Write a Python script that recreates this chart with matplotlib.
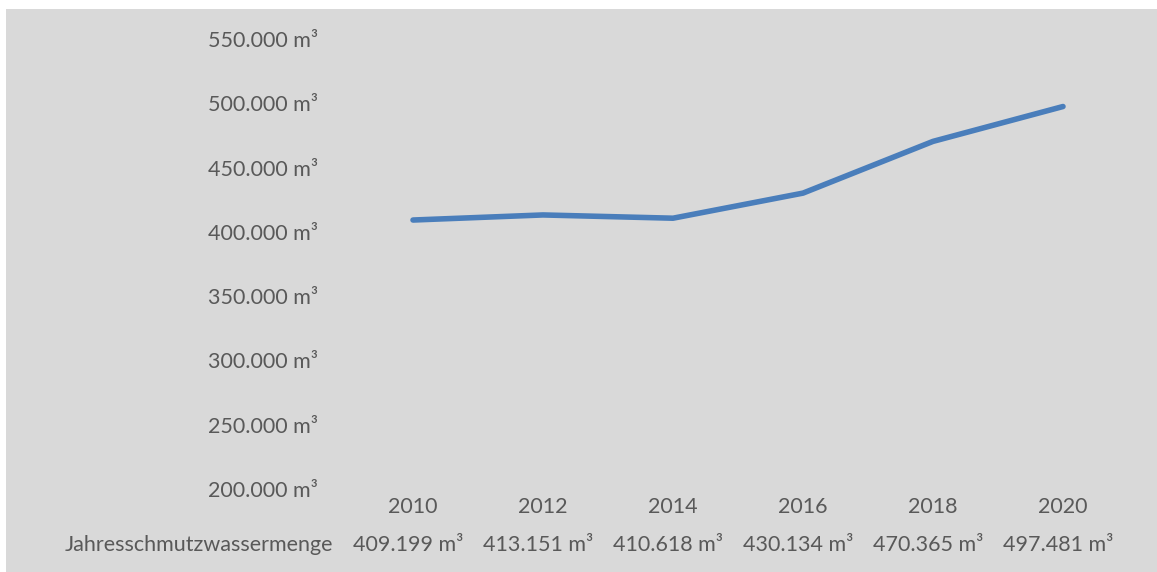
import matplotlib
matplotlib.use("Agg")
import matplotlib.pyplot as plt
from matplotlib.patches import Rectangle
from matplotlib.ticker import FuncFormatter

years = ["2010", "2012", "2014", "2016", "2018", "2020"]
values = [409199, 413151, 410618, 430134, 470365, 497481]
series_name = "Jahresschmutzwassermenge"
y_ticks = [200000, 250000, 300000, 350000, 400000, 450000, 500000, 550000]

W, H = 1157, 572
DPI = 100
plt.rcParams['font.family'] = ['Lato', 'DejaVu Sans']
TXT = "#595959"
FS = 15.5

def fmt(v):
    return f"{v:,.0f}".replace(",", ".") + " m³"

fig = plt.figure(figsize=(W / DPI, H / DPI), dpi=DPI, facecolor="white")
fig.patches.append(Rectangle((6 / W, 0), 1 - 6 / W, 1 - 9 / H, transform=fig.transFigure,
                             facecolor="#d9d9d9", edgecolor="none", zorder=-10))

left, right = 348, 1128
top, bottom = 39, 489
ax = fig.add_axes([left / W, 1 - bottom / H, (right - left) / W, (bottom - top) / H])
ax.patch.set_alpha(0)
for s in ax.spines.values():
    s.set_visible(False)

x = list(range(len(years)))
ax.plot(x, values, color="#4a7ebb", linewidth=4.0, solid_capstyle="round", solid_joinstyle="round")
ax.set_xlim(-0.5, len(years) - 0.5)
ax.set_ylim(200000, 550000)
ax.set_yticks(y_ticks)
ax.yaxis.set_major_formatter(FuncFormatter(lambda v, p: fmt(v)))
ax.tick_params(axis="y", length=0, pad=21.5, labelsize=FS, labelcolor=TXT)
ax.set_xticks([])

for i, (yr, v) in enumerate(zip(years, values)):
    xd = ax.transData.transform((i, 0))[0] / W
    fig.text(xd, 1 - 507 / H, yr, ha="center", va="center", fontsize=FS, color=TXT)
    fig.text(xd - 5 / W, 1 - 545 / H, fmt(v), ha="center", va="center", fontsize=FS, color=TXT)

fig.text(333 / W, 1 - 545 / H, series_name, ha="right", va="center", fontsize=FS, color=TXT)

fig.savefig("out.png", dpi=DPI, facecolor="white")
